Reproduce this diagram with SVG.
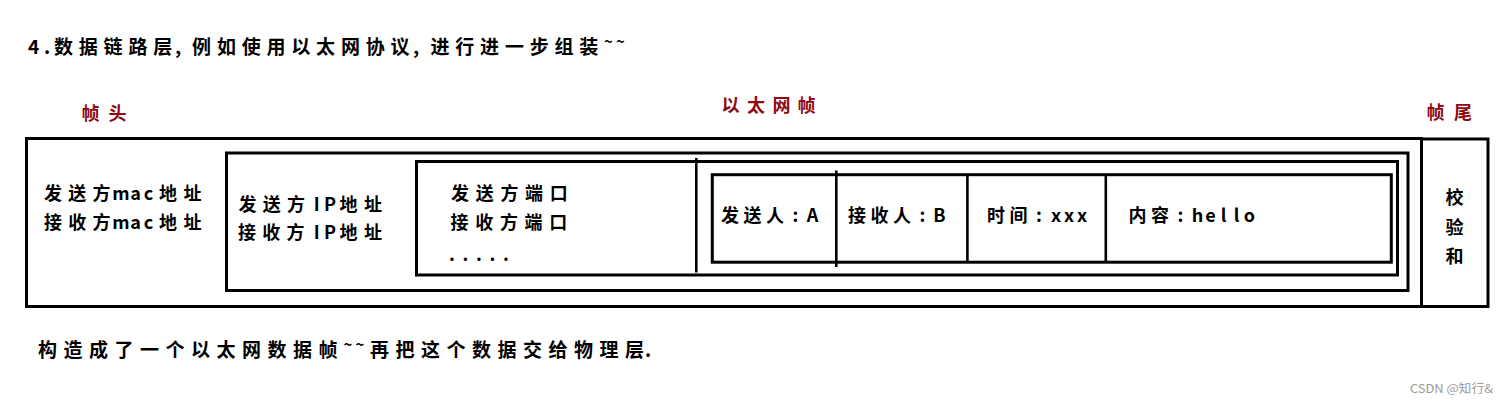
<svg xmlns="http://www.w3.org/2000/svg" width="1508" height="404" viewBox="0 0 1508 404">
<style>
text{font-family:"Noto Sans CJK SC","Liberation Sans",sans-serif;font-weight:700;fill:#000;text-anchor:middle;}
.b{font-size:18px;}
.h{font-size:19px;}
.tl{font-size:15px;}
.red{font-size:18px;fill:#8f0a14;}
.box{fill:none;stroke:#000;stroke-width:3;}
.div{stroke:#000;stroke-width:2.6;}
.wm{font-size:12px;font-weight:400;fill:#9a9a9a;text-anchor:start;}
</style>
<rect width="1508" height="404" fill="#fff"/>
<text class="h" y="54" x="33.5 47 63.5 88.3 113.1 137.9 162.7 178 201.6 226.4 251.2 276 300.8 325.6 350.4 375.2 400 416 440 464.8 489.6 514.4 539.2 564 588.8">4.数据链路层,例如使用以太网协议,进行进一步组装<tspan class="tl" x="608.5 620.5" y="47">~~</tspan></text>
<g id="labels">
<text class="red" y="120" x="90.5 117.5">帧头</text>
<text class="red" y="112" x="730.5 756 781.5 806.5">以太网帧</text>
<text class="red" y="119" x="1435.5 1463">帧尾</text>
</g>
<g id="ethernet-frame">
<rect class="box" x="26.5" y="138.5" width="1395" height="168"/>
<text class="b" y="200" x="53 77.2 101.4 121 135.5 148.5 168 192.5">发送方mac地址</text>
<text class="b" y="228.5" x="53 77.2 101.4 121 135.5 148.5 168 192.5">接收方mac地址</text>
</g>
<g id="ip-packet">
<rect class="box" x="226.5" y="153" width="1181.5" height="137.5"/>
<text class="b" y="210.5" x="247.5 271.8 296 316.7 330 348.5 373">发送方IP地址</text>
<text class="b" y="238.5" x="247 271.3 295.5 316.7 330 348.5 373">接收方IP地址</text>
</g>
<g id="transport-segment">
<rect class="box" x="416.5" y="161.5" width="981" height="113.5"/>
<text class="b" y="200" x="460 484.7 509.4 534.1 558.8">发送方端口</text>
<text class="b" y="228.5" x="459.5 484.2 508.9 533.6 558.3">接收方端口</text>
<text class="b" y="260.5" x="452 465.5 479 492.5 506">.....</text>
</g>
<g id="app-data">
<rect class="box" x="712.3" y="174.7" width="679" height="87.5"/>
<text class="b" y="221.5" x="730 752.5 775 795.5 812.5">发送人:A</text>
<text class="b" y="221.5" x="857 879.5 902 922.5 939.5">接收人:B</text>
<text class="b" y="221.5" x="996 1018.5 1039 1056 1069 1082">时间:xxx</text>
<text class="b" y="221.5" x="1137.5 1160 1180.5 1197.5 1210.5 1223.5 1236.5 1249.5">内容:hello</text>
</g>
<g id="checksum">
<rect class="box" x="1421.5" y="139" width="66.5" height="167.5"/>
<text class="b" x="1454.5" y="204">校</text>
<text class="b" x="1454.5" y="234">验</text>
<text class="b" x="1454.5" y="263">和</text>
</g>
<g id="connectors">
<line class="div" x1="696.3" y1="158" x2="696.3" y2="272.5"/>
<line class="div" x1="836.3" y1="170.5" x2="836.3" y2="267"/>
<line class="div" x1="967.4" y1="174.7" x2="967.4" y2="262.2"/>
<line class="div" x1="1105.8" y1="174.7" x2="1105.8" y2="262.2"/>
</g>
<text class="h" y="357" x="47.5 73 98.5 124 149.5 175 200.5 226 251.5 277 302.5 328">构造成了一个以太网数据帧<tspan class="tl" x="348 360" y="350">~~</tspan><tspan y="357" x="379.5 405 430.5 456 481.5 507 532.5 558 583.5 609 634.5 648">再把这个数据交给物理层.</tspan></text>
<text class="wm" x="1410" y="393" textLength="83" lengthAdjust="spacingAndGlyphs">CSDN @知行&amp;</text>
</svg>
